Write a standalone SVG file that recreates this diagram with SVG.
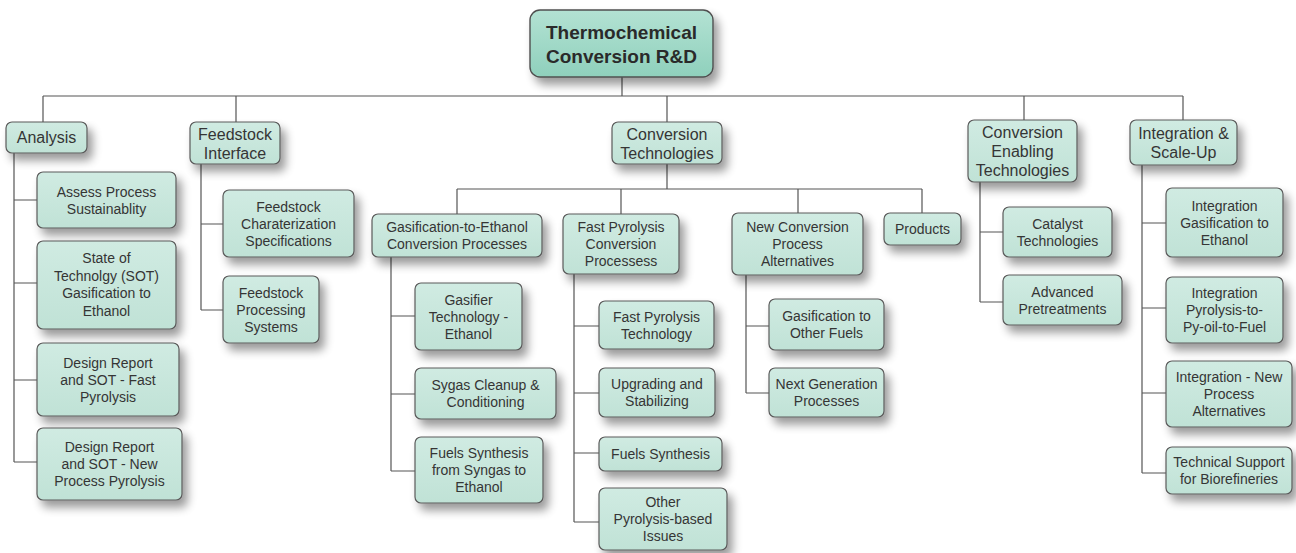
<svg xmlns="http://www.w3.org/2000/svg" width="1296" height="553" viewBox="0 0 1296 553">
  <style>
    .box { fill: url(#boxFill); stroke: #5a5a5a; stroke-width: 1.2; filter: url(#shadow); }
    .root { fill: url(#rootFill); stroke: #4f4f4f; stroke-width: 1.4; filter: url(#shadow); }
    .t { font-family: "Liberation Sans", Arial, sans-serif; font-size: 14px; fill: #353535; text-anchor: middle; }
    .t1 { font-family: "Liberation Sans", Arial, sans-serif; font-size: 16px; fill: #353535; text-anchor: middle; }
    .t0 { font-family: "Liberation Sans", Arial, sans-serif; font-size: 19px; font-weight: bold; fill: #2a2a2a; text-anchor: middle; }
    .wire { fill: none; stroke: #555; stroke-width: 1.2; }
  </style>
  <defs>
    <linearGradient id="boxFill" x1="0" y1="0" x2="0" y2="1">
      <stop offset="0" stop-color="#d0ebe2"/>
      <stop offset="1" stop-color="#c0e2d6"/>
    </linearGradient>
    <linearGradient id="rootFill" x1="0" y1="0" x2="0" y2="1">
      <stop offset="0" stop-color="#b3e2d3"/>
      <stop offset="1" stop-color="#8fd0bc"/>
    </linearGradient>
    <filter id="shadow" x="-25%" y="-25%" width="160%" height="180%">
      <feGaussianBlur in="SourceAlpha" stdDeviation="5"/>
      <feOffset dx="5" dy="7" result="b"/>
      <feComponentTransfer><feFuncA type="linear" slope="0.4"/></feComponentTransfer>
      <feMerge><feMergeNode/><feMergeNode in="SourceGraphic"/></feMerge>
    </filter>
  </defs>
  <rect width="1296" height="553" fill="#ffffff"/>

  <!-- connectors -->
  <g id="connectors" class="wire">
    <path d="M622,77 V96 M43,96 H1183 M43,96 V122 M236,96 V122 M667,96 V122 M1024,96 V120 M1183,96 V120"/>
    <path d="M14,153 V462 M14,200 H37 M14,283 H37 M14,380 H37 M14,462 H37"/>
    <path d="M201,164 V310 M201,224 H223 M201,310 H223"/>
    <path d="M667,164 V189 M457,189 H922 M457,189 V214 M621,189 V214 M798,189 V213 M922,189 V213"/>
    <path d="M391,257 V471 M391,316 H415 M391,394 H415 M391,471 H415"/>
    <path d="M574,274 V522 M574,326 H599 M574,393 H599 M574,453 H599 M574,522 H599"/>
    <path d="M746,275 V393 M746,326 H769 M746,393 H769"/>
    <path d="M980,182 V302 M980,232 H1003 M980,302 H1003"/>
    <path d="M1142,165 V473 M1142,223 H1166 M1142,308 H1166 M1142,393 H1166 M1142,473 H1166"/>
  </g>

  <!-- root -->
  <g id="root">
    <rect class="root" x="530" y="10" width="183" height="67" rx="10"/>
    <text class="t0"><tspan x="621.5" y="39">Thermochemical</tspan><tspan x="621.5" y="63">Conversion R&amp;D</tspan></text>
  </g>

  <!-- top-level areas -->
  <g id="analysis">
    <rect class="box" x="6" y="122" width="81" height="31" rx="6"/>
    <text class="t1"><tspan x="46.5" y="143">Analysis</tspan></text>
  </g>
  <g id="feedstock-interface">
    <rect class="box" x="190" y="122" width="90" height="42" rx="6"/>
    <text class="t1"><tspan x="235" y="139.5">Feedstock</tspan><tspan x="235" y="158.5">Interface</tspan></text>
  </g>
  <g id="conversion-technologies">
    <rect class="box" x="612" y="122" width="110" height="42" rx="6"/>
    <text class="t1"><tspan x="667" y="139.5">Conversion</tspan><tspan x="667" y="158.5">Technologies</tspan></text>
  </g>
  <g id="conversion-enabling">
    <rect class="box" x="968" y="120" width="109" height="62" rx="6"/>
    <text class="t1"><tspan x="1022.5" y="138">Conversion</tspan><tspan x="1022.5" y="157">Enabling</tspan><tspan x="1022.5" y="176">Technologies</tspan></text>
  </g>
  <g id="integration-scale-up">
    <rect class="box" x="1130" y="120" width="107" height="45" rx="6"/>
    <text class="t1"><tspan x="1183.5" y="139">Integration &amp;</tspan><tspan x="1183.5" y="158">Scale-Up</tspan></text>
  </g>

  <!-- analysis items -->
  <g id="assess-sustainability">
    <rect class="box" x="37" y="172" width="139" height="56" rx="6"/>
    <text class="t"><tspan x="106.5" y="196.5">Assess Process</tspan><tspan x="106.5" y="213.5">Sustainablity</tspan></text>
  </g>
  <g id="sot-gasification">
    <rect class="box" x="37" y="241" width="139" height="88" rx="6"/>
    <text class="t"><tspan x="106.5" y="263">State of</tspan><tspan x="106.5" y="280.5">Technolgy (SOT)</tspan><tspan x="106.5" y="298">Gasification to</tspan><tspan x="106.5" y="315.5">Ethanol</tspan></text>
  </g>
  <g id="design-fast-pyrolysis">
    <rect class="box" x="37" y="343" width="142" height="73" rx="6"/>
    <text class="t"><tspan x="108" y="367.5">Design Report</tspan><tspan x="108" y="384.5">and SOT - Fast</tspan><tspan x="108" y="401.5">Pyrolysis</tspan></text>
  </g>
  <g id="design-new-process">
    <rect class="box" x="37" y="428" width="145" height="72" rx="6"/>
    <text class="t"><tspan x="109.5" y="452">Design Report</tspan><tspan x="109.5" y="469">and SOT - New</tspan><tspan x="109.5" y="486">Process Pyrolysis</tspan></text>
  </g>

  <!-- feedstock items -->
  <g id="feedstock-characterization">
    <rect class="box" x="223" y="190" width="131" height="67" rx="6"/>
    <text class="t"><tspan x="288.5" y="211.5">Feedstock</tspan><tspan x="288.5" y="228.5">Charaterization</tspan><tspan x="288.5" y="245.5">Specifications</tspan></text>
  </g>
  <g id="feedstock-processing">
    <rect class="box" x="223" y="276" width="96" height="67" rx="6"/>
    <text class="t"><tspan x="271" y="297.5">Feedstock</tspan><tspan x="271" y="314.5">Processing</tspan><tspan x="271" y="331.5">Systems</tspan></text>
  </g>

  <!-- conversion technology programmes -->
  <g id="gasification-ethanol">
    <rect class="box" x="372" y="214" width="170" height="43" rx="6"/>
    <text class="t"><tspan x="457" y="232">Gasification-to-Ethanol</tspan><tspan x="457" y="249">Conversion Processes</tspan></text>
  </g>
  <g id="fast-pyrolysis">
    <rect class="box" x="563" y="214" width="116" height="60" rx="6"/>
    <text class="t"><tspan x="621" y="232">Fast Pyrolysis</tspan><tspan x="621" y="249">Conversion</tspan><tspan x="621" y="266">Processess</tspan></text>
  </g>
  <g id="new-conversion">
    <rect class="box" x="732" y="213" width="131" height="62" rx="6"/>
    <text class="t"><tspan x="797.5" y="232">New Conversion</tspan><tspan x="797.5" y="249">Process</tspan><tspan x="797.5" y="266">Alternatives</tspan></text>
  </g>
  <g id="products">
    <rect class="box" x="884" y="213" width="77" height="32" rx="6"/>
    <text class="t"><tspan x="922.5" y="234">Products</tspan></text>
  </g>

  <!-- gasification items -->
  <g id="gasifier-technology">
    <rect class="box" x="415" y="283" width="107" height="67" rx="6"/>
    <text class="t"><tspan x="468.5" y="304.5">Gasifier</tspan><tspan x="468.5" y="321.5">Technology -</tspan><tspan x="468.5" y="338.5">Ethanol</tspan></text>
  </g>
  <g id="syngas-cleanup">
    <rect class="box" x="415" y="368" width="141" height="51" rx="6"/>
    <text class="t"><tspan x="485.5" y="390">Sygas Cleanup &amp;</tspan><tspan x="485.5" y="407">Conditioning</tspan></text>
  </g>
  <g id="fuels-synthesis-syngas">
    <rect class="box" x="415" y="437" width="128" height="66" rx="6"/>
    <text class="t"><tspan x="479" y="458">Fuels Synthesis</tspan><tspan x="479" y="475">from Syngas to</tspan><tspan x="479" y="492">Ethanol</tspan></text>
  </g>

  <!-- fast pyrolysis items -->
  <g id="fast-pyrolysis-technology">
    <rect class="box" x="599" y="301" width="115" height="48" rx="6"/>
    <text class="t"><tspan x="656.5" y="321.5">Fast Pyrolysis</tspan><tspan x="656.5" y="338.5">Technology</tspan></text>
  </g>
  <g id="upgrading-stabilizing">
    <rect class="box" x="599" y="368" width="116" height="49" rx="6"/>
    <text class="t"><tspan x="657" y="389">Upgrading and</tspan><tspan x="657" y="406">Stabilizing</tspan></text>
  </g>
  <g id="fuels-synthesis">
    <rect class="box" x="599" y="437" width="123" height="34" rx="6"/>
    <text class="t"><tspan x="660.5" y="459">Fuels Synthesis</tspan></text>
  </g>
  <g id="other-pyrolysis">
    <rect class="box" x="599" y="488" width="128" height="62" rx="6"/>
    <text class="t"><tspan x="663" y="507">Other</tspan><tspan x="663" y="524">Pyrolysis-based</tspan><tspan x="663" y="541">Issues</tspan></text>
  </g>

  <!-- new conversion items -->
  <g id="gasification-other-fuels">
    <rect class="box" x="769" y="299" width="115" height="51" rx="6"/>
    <text class="t"><tspan x="826.5" y="321">Gasification to</tspan><tspan x="826.5" y="338">Other Fuels</tspan></text>
  </g>
  <g id="next-generation">
    <rect class="box" x="769" y="368" width="115" height="49" rx="6"/>
    <text class="t"><tspan x="826.5" y="389">Next Generation</tspan><tspan x="826.5" y="406">Processes</tspan></text>
  </g>

  <!-- enabling items -->
  <g id="catalyst-technologies">
    <rect class="box" x="1003" y="207" width="109" height="50" rx="6"/>
    <text class="t"><tspan x="1057.5" y="228.5">Catalyst</tspan><tspan x="1057.5" y="245.5">Technologies</tspan></text>
  </g>
  <g id="advanced-pretreatments">
    <rect class="box" x="1003" y="275" width="119" height="50" rx="6"/>
    <text class="t"><tspan x="1062.5" y="296.5">Advanced</tspan><tspan x="1062.5" y="313.5">Pretreatments</tspan></text>
  </g>

  <!-- integration items -->
  <g id="integration-gasification">
    <rect class="box" x="1166" y="188" width="117" height="69" rx="6"/>
    <text class="t"><tspan x="1224.5" y="210.5">Integration</tspan><tspan x="1224.5" y="227.5">Gasification to</tspan><tspan x="1224.5" y="244.5">Ethanol</tspan></text>
  </g>
  <g id="integration-pyrolysis">
    <rect class="box" x="1166" y="277" width="117" height="66" rx="6"/>
    <text class="t"><tspan x="1224.5" y="298">Integration</tspan><tspan x="1224.5" y="315">Pyrolysis-to-</tspan><tspan x="1224.5" y="332">Py-oil-to-Fuel</tspan></text>
  </g>
  <g id="integration-new-process">
    <rect class="box" x="1166" y="361" width="126" height="66" rx="6"/>
    <text class="t"><tspan x="1229" y="382">Integration - New</tspan><tspan x="1229" y="399">Process</tspan><tspan x="1229" y="416">Alternatives</tspan></text>
  </g>
  <g id="technical-support">
    <rect class="box" x="1166" y="447" width="126" height="47" rx="6"/>
    <text class="t"><tspan x="1229" y="467">Technical Support</tspan><tspan x="1229" y="484">for Biorefineries</tspan></text>
  </g>
</svg>
